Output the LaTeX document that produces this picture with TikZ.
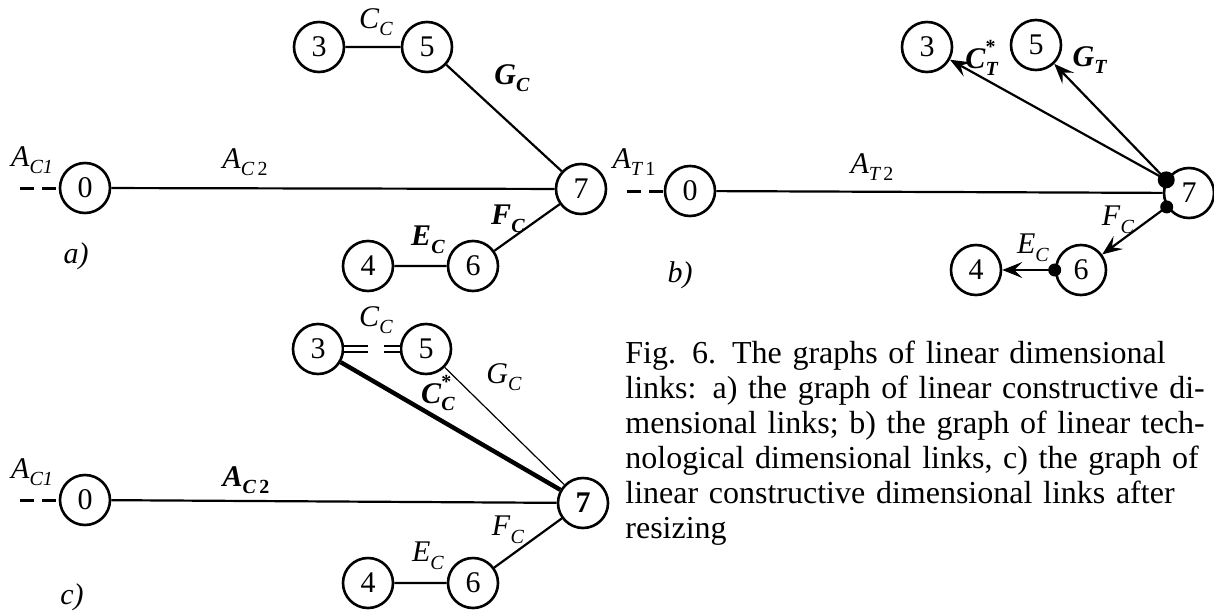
\documentclass[tikz,border=0pt]{standalone}
\usepackage{fontspec}
\setmainfont{Liberation Serif}
\usepackage{tikz}
\usetikzlibrary{arrows.meta}

\newcommand{\lbl}[2]{\textit{#1}\raisebox{-0.55ex}{\fontsize{10}{10}\selectfont\textit{#2}}}
\newcommand{\slbl}[2]{\textit{#1}\rlap{\raisebox{1.1ex}{\fontsize{10}{10}\selectfont *}}\raisebox{-0.55ex}{\fontsize{10}{10}\selectfont\textit{#2}}}

\begin{document}
\begin{tikzpicture}[x=0.5pt, y=-0.5pt,
    vertex/.style={circle, draw, line width=1.3pt, minimum size=25pt, inner sep=0pt, font=\fontsize{15}{15}\selectfont},
    link/.style={line width=1.1pt},
    pair/.style={double, line width=0.8pt, double distance=2.2pt},
    base/.style={line width=1.5pt, dash pattern=on 7pt off 4pt},
    tag/.style={inner sep=0pt, font=\fontsize{15}{15}\selectfont},
    dot/.style={circle, fill, inner sep=0pt, minimum size=6.5pt},
    >={Stealth[length=10pt, width=8pt, inset=4pt]}]

    \useasboundingbox (0,0) rectangle (1214,610);

    % a) constructive graph
    \node[vertex] (a0) at (85,188) {0};
    \node[vertex] (a3) at (319,47) {3};
    \node[vertex] (a5) at (427,47) {5};
    \node[vertex] (a7) at (581,189) {7};
    \node[vertex] (a4) at (368,266) {4};
    \node[vertex] (a6) at (473,266) {6};
    \coordinate (a-in) at (20,188);

    \draw[base] (a-in) -- (a0);
    \draw[link] (a0) -- (a7);
    \draw[link] (a3) -- (a5) -- (a7);
    \draw[link] (a7) -- (a6) -- (a4);

    \node[tag] at (32,160) {\lbl{A}{C1}};
    \node[tag] at (245,162) {\lbl{A}{C\,\textup{2}}};
    \node[tag] at (376,22) {\lbl{C}{C}};
    \node[tag] at (512,78) {\bfseries\lbl{G}{C}};
    \node[tag] at (508,219) {\bfseries\lbl{F}{C}};
    \node[tag] at (428,240) {\bfseries\lbl{E}{C}};
    \node[tag] at (76,256) {\textit{a)}};

    % b) technological graph
    \node[vertex] (b0) at (690,191) {0};
    \node[vertex] (b3) at (927,47) {3};
    \node[vertex] (b5) at (1036,45) {5};
    \node[vertex] (b7) at (1189,193) {7};
    \node[vertex] (b4) at (976,270) {4};
    \node[vertex] (b6) at (1081,270) {6};
    \coordinate (b-in) at (627,191);

    \draw[base] (b-in) -- (b0);
    \draw[link] (b0) -- (b7);

    % dots mark where each link starts
    \node[dot, minimum size=8.5pt] (bt) at (b7.150) {};
    \node[dot] (bb) at (b7.212) {};
    \node[dot] (bs) at (b6.west) {};

    \draw[link, ->] (bt.center) -- (b3);
    \draw[link, ->] (bt.center) -- (b5);
    \draw[link, ->] (bb.center) -- (b6);
    \draw[link, ->] (bs.center) -- (b4);

    \node[tag] at (634,162) {\lbl{A}{T\,\textup{1}}};
    \node[tag] at (872,167) {\lbl{A}{T\,\textup{2}}};
    \node[tag] at (982,58) {\bfseries\slbl{C}{T}};
    \node[tag] at (1090,60) {\bfseries\lbl{G}{T}};
    \node[tag] at (1118,220) {\lbl{F}{C}};
    \node[tag] at (1033,248) {\lbl{E}{C}};
    \node[tag] at (680,275) {\textit{b)}};

    % c) constructive graph after resizing
    \node[vertex] (c0) at (85,500) {0};
    \node[vertex] (c3) at (318,349) {3};
    \node[vertex] (c5) at (426,349) {5};
    \node[vertex] (c7) at (583,503) {\bfseries 7};
    \node[vertex] (c4) at (368,583) {4};
    \node[vertex] (c6) at (473,583) {6};
    \coordinate (c-in) at (20,500);
    \coordinate (cg1) at (368,349);
    \coordinate (cg2) at (384,349);

    \draw[base] (c-in) -- (c0);
    \draw[link] (c0) -- (c7);
    \draw[pair] (c3) -- (cg1);
    \draw[pair] (cg2) -- (c5);
    \draw[line width=2.2pt] (c3) -- (c7);
    \draw[line width=0.6pt] (c5) -- (c7);
    \draw[link] (c7) -- (c6) -- (c4);

    \node[tag] at (32,472) {\lbl{A}{C1}};
    \node[tag] at (246,480) {\bfseries\lbl{A}{C\,\textup{2}}};
    \node[tag] at (376,320) {\lbl{C}{C}};
    \node[tag] at (438,393) {\bfseries\slbl{C}{C}};
    \node[tag] at (504,377) {\lbl{G}{C}};
    \node[tag] at (508,530) {\lbl{F}{C}};
    \node[tag] at (428,556) {\lbl{E}{C}};
    \node[tag] at (72,597) {\textit{c)}};

    % caption
    \node[tag, anchor=north west, text width=287.5pt, align=left,
          font=\fontsize{16}{17.5}\selectfont] (cap) at (625,341) {%
      \makebox[287.5pt][s]{Fig. 6. The graphs of linear dimensional}\\
      \makebox[287.5pt][s]{links: a) the graph of linear constructive di-}\\
      \makebox[287.5pt][s]{mensional links; b) the graph of linear tech-}\\
      \makebox[287.5pt][s]{nological dimensional links, c) the graph of}\\
      \makebox[287.5pt][s]{linear constructive dimensional links after}\\
      resizing};

\end{tikzpicture}
\end{document}
